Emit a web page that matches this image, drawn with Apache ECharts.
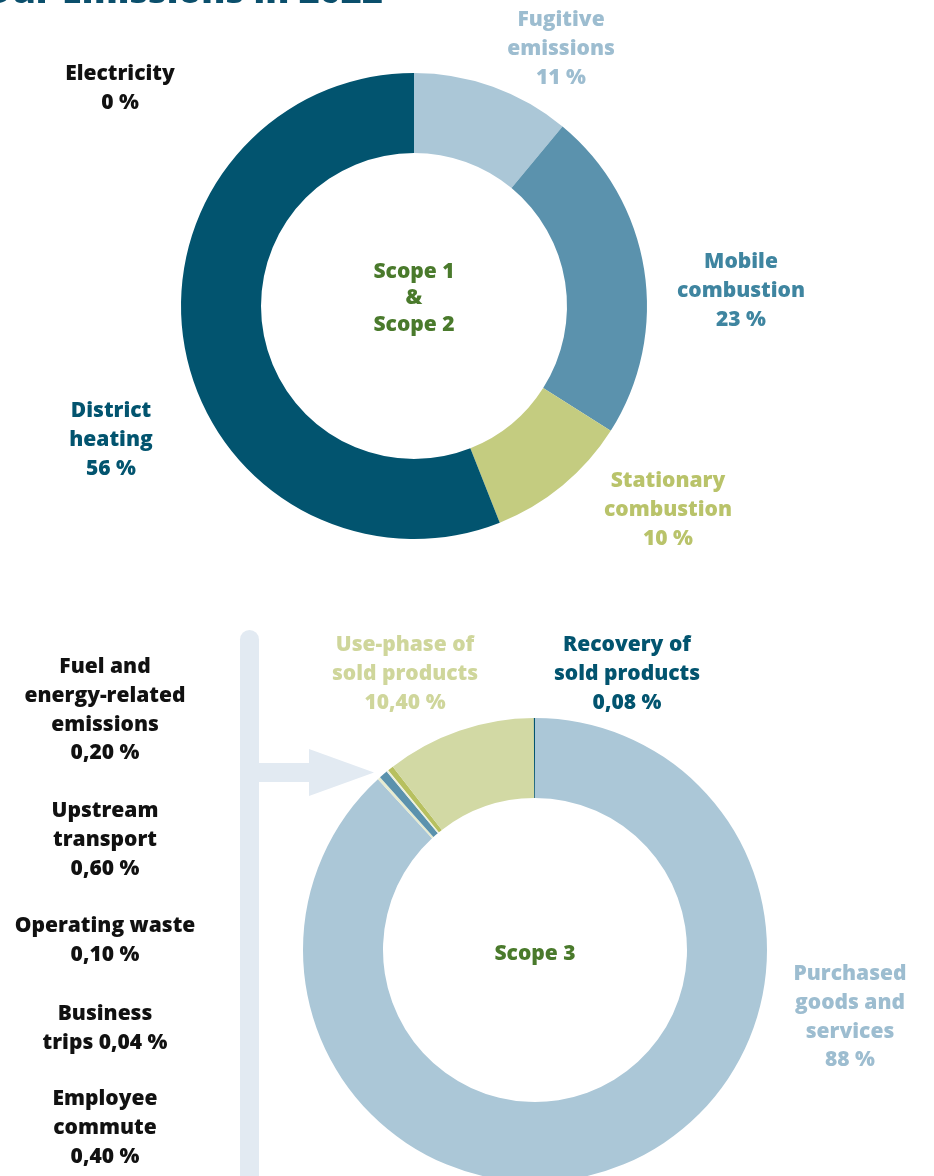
<!DOCTYPE html>
<html>
<head>
<meta charset="utf-8">
<script src="https://cdn.jsdelivr.net/npm/echarts@6/dist/echarts.min.js"></script>
<style>
  html, body { margin: 0; padding: 0; background: #ffffff; }
  #chart { width: 934px; height: 1176px; }
</style>
</head>
<body>
<div id="chart"></div>
<script>
// Scope 1 & 2 breakdown (clockwise from 12 o'clock)
const scope12Names = ['Fugitive\nemissions', 'Mobile\ncombustion', 'Stationary\ncombustion', 'District\nheating', 'Electricity'];
const scope12Values = [11, 23, 10, 56, 0];
const scope12Colors = ['#abc7d7', '#5b92ad', '#c4cc80', '#02546f', '#1a1a1a'];
const scope12LabelColors = ['#9dbdd0', '#3f85a0', '#b9c36a', '#02546f', '#111111'];

// Scope 3 breakdown (clockwise from 12 o'clock)
const scope3Names = ['Purchased\ngoods and\nservices', 'Fuel and\nenergy-related\nemissions', 'Upstream\ntransport', 'Operating waste', 'Business\ntrips', 'Employee\ncommute', 'Use-phase of\nsold products', 'Recovery of\nsold products'];
const scope3Values = [88, 0.20, 0.60, 0.10, 0.04, 0.40, 10.40, 0.08];
const scope3Colors = ['#abc7d7', '#e6ebd0', '#5b92ad', '#e9edd8', '#f4f6ea', '#b7c05f', '#d2d9a4', '#02546f'];
const scope3LabelColors = ['#9dbdd0', '#111111', '#111111', '#111111', '#111111', '#111111', '#cfd69b', '#02546f'];

const FONT = '"Open Sans", Lato, sans-serif';
const LABEL_FONT = '800 21px ' + FONT;

function fmt(v) {
  const s = Number.isInteger(v) ? String(v) : v.toFixed(2).replace('.', ',');
  return s + ' %';
}
// Business trips share a line with their value
function labelText(name, v, inline) {
  return name + (inline ? ' ' : '\n') + fmt(v);
}

// label anchor: centre x, centre of first line y
const scope12Anchors = [[561, 20], [741, 262], [668, 481], [111, 411], [120, 74]];
const scope3Anchors = [[850, 974], [105, 667], [105, 811], [105, 926], [105, 1014], [105, 1099], [405, 645], [627, 645]];
const LH = 28.8;

const graphics = [];

// heading (runs off the top edge)
graphics.push({
  type: 'text', silent: true, x: 383, y: -7,
  style: { text: 'Our Emissions in 2022', font: '800 36px ' + FONT, fill: '#0b4f6c', align: 'right', verticalAlign: 'middle' }
});

// connector bar and arrow pointing at the small Scope 3 slices
const ARROW = '#e2eaf2';
graphics.push({
  type: 'rect', silent: true,
  shape: { x: 240, y: 630, width: 19, height: 600, r: [9.5, 9.5, 0, 0] },
  style: { fill: ARROW }
});
graphics.push({
  type: 'rect', silent: true,
  shape: { x: 250, y: 763, width: 62, height: 19 },
  style: { fill: ARROW }
});
graphics.push({
  type: 'polygon', silent: true,
  shape: { points: [[309, 749], [374, 772.5], [309, 796]] },
  style: { fill: ARROW }
});

function addLabels(names, values, anchors, colors, inlineIdx) {
  names.forEach((n, i) => {
    graphics.push({
      type: 'text', silent: true,
      x: anchors[i][0], y: anchors[i][1] - LH / 2,
      style: {
        text: labelText(n, values[i], i === inlineIdx),
        font: LABEL_FONT,
        fill: colors[i],
        align: 'center',
        verticalAlign: 'top',
        lineHeight: LH
      }
    });
  });
}
addLabels(scope12Names, scope12Values, scope12Anchors, scope12LabelColors, -1);
addLabels(scope3Names, scope3Values, scope3Anchors, scope3LabelColors, 4);

// centre titles
graphics.push({
  type: 'text', silent: true, x: 414, y: 271 - 13.25 + 1,
  style: { text: 'Scope 1\n&\nScope 2', font: LABEL_FONT, fill: '#4a7a2c', align: 'center', verticalAlign: 'top', lineHeight: 26.5 }
});
graphics.push({
  type: 'text', silent: true, x: 535, y: 954,
  style: { text: 'Scope 3', font: LABEL_FONT, fill: '#4a7a2c', align: 'center', verticalAlign: 'middle' }
});

function pieData(names, values, colors) {
  return names.map((n, i) => ({ name: n, value: values[i], itemStyle: { color: colors[i] } }));
}

const chart = echarts.init(document.getElementById('chart'), null, { renderer: 'canvas' });
chart.setOption({
  animation: false,
  backgroundColor: '#ffffff',
  series: [
    {
      type: 'pie', silent: true,
      center: [414, 306], radius: [153, 233],
      startAngle: 90, clockwise: true,
      label: { show: false }, labelLine: { show: false },
      itemStyle: { borderWidth: 0 },
      data: pieData(scope12Names, scope12Values, scope12Colors)
    },
    {
      type: 'pie', silent: true,
      center: [535, 950], radius: [152, 232],
      startAngle: 90, clockwise: true,
      label: { show: false }, labelLine: { show: false },
      itemStyle: { borderWidth: 0 },
      data: pieData(scope3Names, scope3Values, scope3Colors)
    }
  ],
  graphic: graphics
});
</script>
</body>
</html>
